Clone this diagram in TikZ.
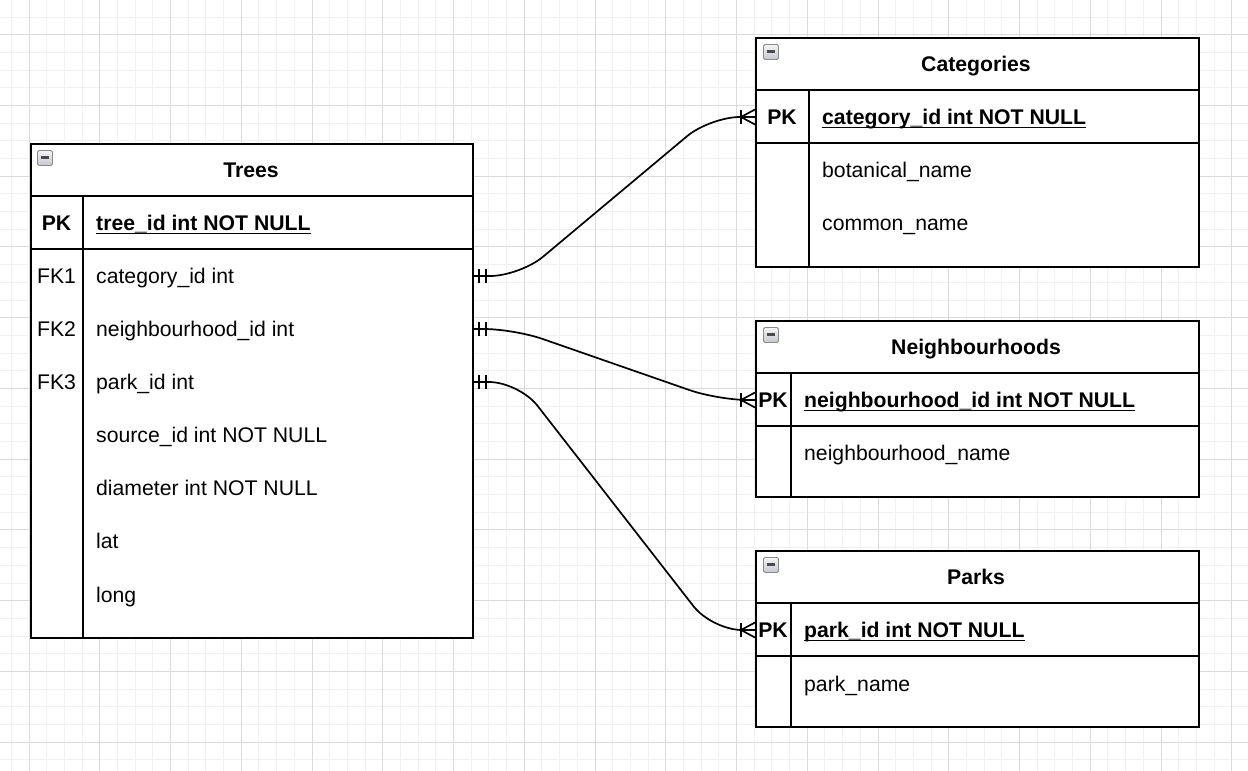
\documentclass[tikz,border=0pt]{standalone}
\usepackage{fontspec}
\setmainfont{Liberation Sans}
\usetikzlibrary{calc}
\definecolor{gridminor}{HTML}{F1F1F1}
\definecolor{gridmajor}{HTML}{DADADA}
\definecolor{icontop}{HTML}{F4F5F7}
\definecolor{iconbot}{HTML}{C4C8CF}
\definecolor{iconedge}{HTML}{8A8A8A}
\definecolor{iconbar}{HTML}{4A4A4A}
\begin{document}
\begin{tikzpicture}[x=1pt,y=-1pt,
  minorline/.style={draw=gridminor, line width=1pt},
  majorline/.style={draw=gridmajor, line width=1pt},
  tbox/.style={draw, line width=1.7pt, fill=white, minimum width=443pt, anchor=north west, inner sep=0pt},
  ln/.style={line width=1.7pt},
  conn/.style={line width=1.7pt, rounded corners=30pt},
  tick/.style={line width=1.7pt},
  txt/.style={inner sep=0pt, anchor=base west, font=\fontsize{21.2}{25}\selectfont},
  btxt/.style={inner sep=0pt, anchor=base west, font=\fontsize{21.2}{25}\selectfont\bfseries},
  ktxt/.style={inner sep=0pt, anchor=base, font=\fontsize{21.2}{25}\selectfont},
  kbtxt/.style={inner sep=0pt, anchor=base, font=\fontsize{21.2}{25}\selectfont\bfseries},
  ttl/.style={inner sep=0pt, anchor=base, font=\fontsize{21.2}{25}\selectfont\bfseries},
  uline/.style={line width=1.5pt},
  icon/.style={draw=iconedge, top color=icontop, bottom color=iconbot, line width=0.9pt, rounded corners=1.5pt, minimum width=15pt, minimum height=15pt, anchor=north west, inner sep=0pt}
]
\useasboundingbox (0,0) rectangle (1248,771);
\fill[white] (0,0) rectangle (1248,771);
% grid
\foreach \k in {0,...,70} { \draw[minorline] ({11.3125+\k*17.6875},0) -- ++(0,771); }
\foreach \k in {0,...,44} { \draw[minorline] (0,{-0.675+\k*17.6875}) -- ++(1248,0); }
\foreach \k in {0,...,17} { \draw[majorline] ({29+\k*70.75},0) -- ++(0,771); }
\foreach \k in {0,...,10} { \draw[majorline] (0,{34.7+\k*70.75}) -- ++(1248,0); }

% ---------------- Trees ----------------
\node[tbox, minimum width=442pt, minimum height=494pt] (trees) at (30,143) {};
\draw[ln] (30,196) -- (472,196);
\draw[ln] (30,249) -- (472,249);
\draw[ln] (83,196) -- (83,637);
\node[icon] (treesicon) at (37,150) {};
\draw[line width=2.2pt, iconbar] (40.5,157.5) -- (48.5,157.5);
\node[ttl] (treestitle) at (251,177.5) {Trees};
\node[kbtxt] (treespk) at (56.5,230.5) {PK};
\node[btxt] (treesid) at (96,230.5) {tree\_id int NOT NULL};
\draw[uline] ([yshift=-3pt]treesid.base west) -- ([yshift=-3pt]treesid.base east);
\node[ktxt] (fk1) at (56.5,283.5) {FK1};
\node[txt] (f1) at (96,283.5) {category\_id int};
\node[ktxt] (fk2) at (56.5,336.5) {FK2};
\node[txt] (f2) at (96,336.5) {neighbourhood\_id int};
\node[ktxt] (fk3) at (56.5,389.5) {FK3};
\node[txt] (f3) at (96,389.5) {park\_id int};
\node[txt] (f4) at (96,442.5) {source\_id int NOT NULL};
\node[txt] (f5) at (96,495.5) {diameter int NOT NULL};
\node[txt] (f6) at (96,548.5) {lat};
\node[txt] (f7) at (96,602) {long};

% ---------------- Categories ----------------
\node[tbox, minimum height=229pt] (cat) at (755,37) {};
\draw[ln] (755,90) -- (1198,90);
\draw[ln] (755,143) -- (1198,143);
\draw[ln] (809,90) -- (809,266);
\node[icon] (caticon) at (763,44) {};
\draw[line width=2.2pt, iconbar] (766.5,51.5) -- (774.5,51.5);
\node[ttl] (cattitle) at (976,71.5) {Categories};
\node[kbtxt] (catpk) at (782,124.5) {PK};
\node[btxt] (catid) at (822,124.5) {category\_id int NOT NULL};
\draw[uline] ([yshift=-3pt]catid.base west) -- ([yshift=-3pt]catid.base east);
\node[txt] (c1) at (822,177.5) {botanical\_name};
\node[txt] (c2) at (822,230.5) {common\_name};

% ---------------- Neighbourhoods ----------------
\node[tbox, minimum height=176pt] (nb) at (755,320) {};
\draw[ln] (755,373) -- (1198,373);
\draw[ln] (755,426) -- (1198,426);
\draw[ln] (791,373) -- (791,496);
\node[icon] (nbicon) at (763,327) {};
\draw[line width=2.2pt, iconbar] (766.5,334.5) -- (774.5,334.5);
\node[ttl] (nbtitle) at (976,354.5) {Neighbourhoods};
\node[kbtxt] (nbpk) at (773,407.5) {PK};
\node[btxt] (nbid) at (804,407.5) {neighbourhood\_id int NOT NULL};
\draw[uline] ([yshift=-3pt]nbid.base west) -- ([yshift=-3pt]nbid.base east);
\node[txt] (n1) at (804,460.5) {neighbourhood\_name};

% ---------------- Parks ----------------
\node[tbox, minimum height=176pt] (pk) at (755,550) {};
\draw[ln] (755,603) -- (1198,603);
\draw[ln] (755,656) -- (1198,656);
\draw[ln] (791,603) -- (791,726);
\node[icon] (pkicon) at (763,557) {};
\draw[line width=2.2pt, iconbar] (766.5,564.5) -- (774.5,564.5);
\node[ttl] (pktitle) at (976,584.5) {Parks};
\node[kbtxt] (pkpk) at (773,637.5) {PK};
\node[btxt] (pkid) at (804,637.5) {park\_id int NOT NULL};
\draw[uline] ([yshift=-3pt]pkid.base west) -- ([yshift=-3pt]pkid.base east);
\node[txt] (p1) at (804,691) {park\_name};

% ---------------- connectors ----------------
\coordinate (s1) at (472,276);
\coordinate (s2) at (472,329);
\coordinate (s3) at (472,382);
\coordinate (e1) at (755,117);
\coordinate (e2) at (755,400);
\coordinate (e3) at (755,630);

\draw[conn] (s1) -- ++(48,0) -- ($(e1)+(-45,0)$) -- (e1);
\draw[conn] (s2) -- ++(42,0) -- ($(e2)+(-37,0)$) -- (e2);
\draw[conn] (s3) -- ++(47,0) -- ($(e3)+(-43,0)$) -- (e3);

\foreach \s in {s1,s2,s3} {
  \draw[tick] ($(\s)+(7,-7)$) -- ++(0,14);
  \draw[tick] ($(\s)+(14,-7)$) -- ++(0,14);
}
\foreach \e in {e1,e2,e3} {
  \draw[tick] ($(\e)+(-14,-7)$) -- ++(0,14);
  \draw[tick] ($(\e)+(0,-7.5)$) -- ($(\e)+(-14,0)$) -- ($(\e)+(0,7.5)$);
}
\end{tikzpicture}
\end{document}
